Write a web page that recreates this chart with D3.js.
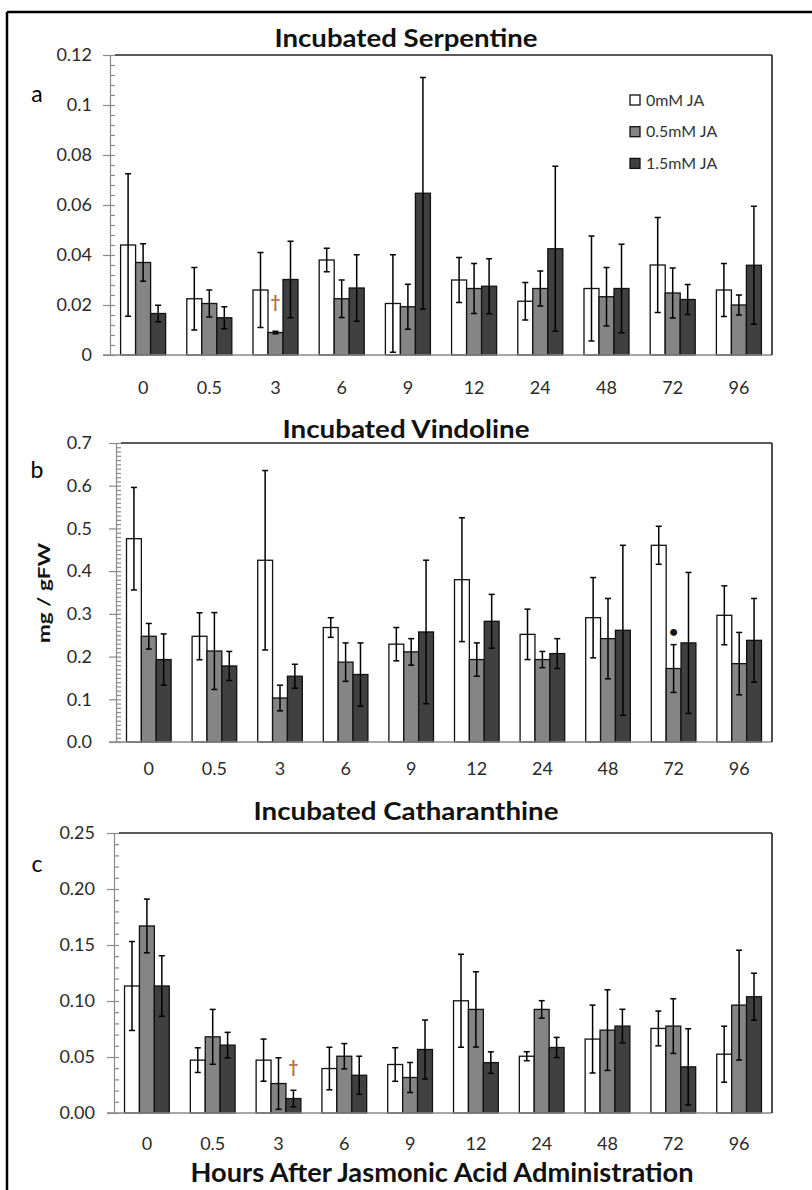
<!DOCTYPE html>
<html>
<head>
<meta charset="utf-8">
<script src="https://cdn.jsdelivr.net/npm/d3@7"></script>
<style>
  body { margin: 0; background: #fff; }
  svg { display: block; font-family: Lato, "Open Sans", sans-serif; }
</style>
</head>
<body>
<svg></svg>
<script>
const hours = ["0", "0.5", "3", "6", "9", "12", "24", "48", "72", "96"]
const series = ["0mM JA", "0.5mM JA", "1.5mM JA"]

// Incubated Serpentine
const serpMean0  = [0.044, 0.0225, 0.026, 0.038, 0.0206, 0.030, 0.0215, 0.0266, 0.036, 0.026]
const serpErr0   = [0.0285, 0.0125, 0.015, 0.0047, 0.0195, 0.009, 0.0075, 0.021, 0.019, 0.0106]
const serpMean05 = [0.037, 0.0206, 0.009, 0.0225, 0.0193, 0.0266, 0.0266, 0.0233, 0.0248, 0.020]
const serpErr05  = [0.0075, 0.0054, 0.0005, 0.0075, 0.009, 0.010, 0.007, 0.0117, 0.010, 0.004]
const serpMean15 = [0.0166, 0.0149, 0.0302, 0.0268, 0.0647, 0.0275, 0.0425, 0.0266, 0.0222, 0.0359]
const serpErr15  = [0.0033, 0.0044, 0.0153, 0.0133, 0.0463, 0.011, 0.033, 0.0177, 0.006, 0.0236]
const serpTicks  = ["0", "0.02", "0.04", "0.06", "0.08", "0.1", "0.12"]

// Incubated Vindoline
const vindMean0  = [0.476, 0.2475, 0.4255, 0.268, 0.229, 0.380, 0.252, 0.291, 0.4605, 0.2966]
const vindErr0   = [0.12, 0.055, 0.21, 0.023, 0.039, 0.145, 0.059, 0.094, 0.0445, 0.069]
const vindMean05 = [0.2475, 0.213, 0.103, 0.187, 0.211, 0.193, 0.193, 0.242, 0.172, 0.1835]
const vindErr05  = [0.03, 0.09, 0.03, 0.045, 0.031, 0.039, 0.019, 0.094, 0.056, 0.073]
const vindMean15 = [0.193, 0.178, 0.154, 0.158, 0.2576, 0.2826, 0.207, 0.2615, 0.232, 0.238]
const vindErr15  = [0.06, 0.034, 0.028, 0.074, 0.168, 0.063, 0.035, 0.199, 0.165, 0.098]
const vindTicks  = ["0.0", "0.1", "0.2", "0.3", "0.4", "0.5", "0.6", "0.7"]

// Incubated Catharanthine
const cathMean0  = [0.1134, 0.0472, 0.0472, 0.0397, 0.0433, 0.1002, 0.0507, 0.066, 0.0755, 0.0525]
const cathErr0   = [0.0397, 0.011, 0.0188, 0.019, 0.015, 0.0415, 0.004, 0.0303, 0.0155, 0.025]
const cathMean05 = [0.167, 0.068, 0.0263, 0.0507, 0.0317, 0.0925, 0.0925, 0.074, 0.0776, 0.0963]
const cathErr05  = [0.024, 0.0245, 0.023, 0.0113, 0.0134, 0.0336, 0.0078, 0.036, 0.0244, 0.049]
const cathMean15 = [0.1134, 0.0606, 0.0129, 0.0337, 0.0567, 0.045, 0.0585, 0.0776, 0.0412, 0.1038]
const cathErr15  = [0.027, 0.0114, 0.0074, 0.017, 0.0263, 0.0096, 0.009, 0.015, 0.034, 0.021]
const cathTicks  = ["0.00", "0.05", "0.10", "0.15", "0.20", "0.25"]

// significance marks: [hour, series index, value where the mark sits, symbol]
const serpMarks = [["3", 1, 0.0213, "†"]]
const vindMarks = [["72", 1, 0.259, "•"]]
const cathMarks = [["3", 2, 0.041, "†"]]

const fills = ["#ffffff", "#858585", "#404040"]
const axisGrey = "#8a8a8a"

let width = 812,
    height = 1190

const svg = d3.select("svg")
    .attr("width", width)
    .attr("height", height)

// outer figure frame, cut at right and bottom
svg.append("line")
    .attr("x1", 7).attr("y1", 12).attr("x2", width).attr("y2", 12)
    .attr("stroke", "#000").attr("stroke-width", 2.5)
svg.append("line")
    .attr("x1", 7).attr("y1", 12).attr("x2", 7).attr("y2", height)
    .attr("stroke", "#000").attr("stroke-width", 2.5)

const panels = [
    {title: "Incubated Serpentine", titleY: 47, titleLen: 263, tag: "a", tagY: 102,
     means: [serpMean0, serpMean05, serpMean15], errs: [serpErr0, serpErr05, serpErr15],
     ticks: serpTicks, max: 0.12, minor: 0.004, marks: serpMarks,
     left: 110, right: 772, top: 55, bottom: 355, yPad: 11, xPad: 26, legend: true},
    {title: "Incubated Vindoline", titleY: 438, titleLen: 247, tag: "b", tagY: 478,
     means: [vindMean0, vindMean05, vindMean15], errs: [vindErr0, vindErr05, vindErr15],
     ticks: vindTicks, max: 0.7, minor: 0.01, marks: vindMarks,
     left: 116, right: 772, top: 443, bottom: 742, yPad: 17, xPad: 20, legend: false},
    {title: "Incubated Catharanthine", titleY: 820, titleLen: 305, tag: "c", tagY: 872,
     means: [cathMean0, cathMean05, cathMean15], errs: [cathErr0, cathErr05, cathErr15],
     ticks: cathTicks, max: 0.25, minor: 0.01, marks: cathMarks,
     left: 114, right: 772, top: 833, bottom: 1113, yPad: 12, xPad: 24, legend: false}
]

const drawPanel = p => {
    const x = d3.scaleBand().domain(hours).range([p.left, p.right])
        .paddingInner(0.32).paddingOuter(0.16)
    const xs = d3.scaleBand().domain(series).range([0, x.bandwidth()])
    const y = d3.scaleLinear().domain([0, p.max]).range([p.bottom, p.top])

    const g = svg.append("g")

    g.append("text")
        .attr("x", 406).attr("y", p.titleY)
        .attr("text-anchor", "middle")
        .attr("textLength", p.titleLen).attr("lengthAdjust", "spacingAndGlyphs")
        .style("font-size", "25px").style("font-weight", 700).style("fill", "#111")
        .text(p.title)

    g.append("text")
        .attr("x", 37).attr("y", p.tagY)
        .attr("text-anchor", "middle")
        .style("font-size", "23px").style("fill", "#000")
        .text(p.tag)

    // minor ticks on the inside
    const minorAxis = g.append("g")
        .attr("transform", `translate(${p.left},0)`)
        .call(d3.axisRight(y).tickValues(d3.range(0, p.max + 1e-9, p.minor)).tickSize(5).tickFormat(""))
    minorAxis.select(".domain").remove()

    const yAxis = g.append("g")
        .attr("transform", `translate(${p.left},0)`)
        .call(d3.axisLeft(y)
            .tickValues(p.ticks.map(Number))
            .tickFormat((d, i) => p.ticks[i])
            .tickSize(7).tickSizeOuter(0).tickPadding(p.yPad))
    yAxis.selectAll("text").attr("font-size", 18).attr("font-family", "Lato").attr("fill", "#2a2a2a")

    g.selectAll("line, path").attr("stroke", axisGrey).attr("stroke-width", 1.2)

    const xAxis = g.append("g")
        .attr("transform", `translate(0,${p.bottom})`)
        .call(d3.axisBottom(x).tickSize(0).tickPadding(p.xPad))
    xAxis.select(".domain").remove()
    xAxis.selectAll("text").attr("font-size", 18).attr("font-family", "Lato").attr("fill", "#2a2a2a")

    const rows = hours.flatMap((h, i) => series.map((s, k) => ({
        h: h, s: s, k: k, v: p.means[k][i], e: p.errs[k][i]
    })))

    g.selectAll(".bar")
        .data(rows)
        .enter()
        .append("rect")
        .attr("x", d => x(d.h) + xs(d.s))
        .attr("y", d => y(d.v))
        .attr("width", xs.bandwidth())
        .attr("height", d => p.bottom - y(d.v))
        .attr("fill", d => fills[d.k])
        .attr("stroke", "#111")
        .attr("stroke-width", 1.3)

    const cx = d => x(d.h) + xs(d.s) + xs.bandwidth() / 2
    const err = g.selectAll(".err").data(rows).enter().append("g")
        .attr("stroke", "#000").attr("stroke-width", 1.5)
    err.append("line")
        .attr("x1", cx).attr("x2", cx)
        .attr("y1", d => y(d.v + d.e)).attr("y2", d => y(d.v - d.e))
    err.append("line")
        .attr("x1", d => cx(d) - 3).attr("x2", d => cx(d) + 3)
        .attr("y1", d => y(d.v + d.e)).attr("y2", d => y(d.v + d.e))
    err.append("line")
        .attr("x1", d => cx(d) - 3).attr("x2", d => cx(d) + 3)
        .attr("y1", d => y(d.v - d.e)).attr("y2", d => y(d.v - d.e))

    g.selectAll(".mark")
        .data(p.marks)
        .enter()
        .append("text")
        .attr("x", d => x(d[0]) + xs(series[d[1]]) + xs.bandwidth() / 2)
        .attr("y", d => y(d[2]))
        .attr("dy", "0.35em")
        .attr("text-anchor", "middle")
        .style("font-size", d => d[3] == "†" ? "17px" : "16px")
        .style("font-weight", 700)
        .style("fill", d => d[3] == "†" ? "#b5703a" : "#111")
        .text(d => d[3])

    // frame: grey bottom axis, black top and right
    g.append("line")
        .attr("x1", p.left - 7).attr("x2", p.right)
        .attr("y1", p.bottom).attr("y2", p.bottom)
        .attr("stroke", axisGrey).attr("stroke-width", 1.5)
    g.append("line")
        .attr("x1", p.left + 5).attr("x2", p.right)
        .attr("y1", p.top).attr("y2", p.top)
        .attr("stroke", "#222").attr("stroke-width", 1.6)
    g.append("line")
        .attr("x1", p.right).attr("x2", p.right)
        .attr("y1", p.top).attr("y2", p.bottom)
        .attr("stroke", "#222").attr("stroke-width", 1.6)

    if (p.legend) {
        const lg = g.selectAll(".legend")
            .data(series)
            .enter()
            .append("g")
            .attr("transform", (d, i) => `translate(630,${100 + i * 31.7})`)
        lg.append("rect")
            .attr("x", 0).attr("y", -5).attr("width", 10).attr("height", 10)
            .attr("fill", (d, i) => fills[i]).attr("stroke", "#111").attr("stroke-width", 1.3)
        lg.append("text")
            .attr("x", 16).attr("dy", "0.36em")
            .style("font-size", "16px").style("fill", "#333")
            .text(d => d)
    }
}

panels.forEach(drawPanel)

svg.append("text")
    .attr("transform", "translate(50,593) rotate(-90)")
    .attr("text-anchor", "middle")
    .attr("textLength", 100).attr("lengthAdjust", "spacingAndGlyphs")
    .style("font-size", "17px").style("font-weight", 700).style("fill", "#111")
    .text("mg / gFW")

svg.append("text")
    .attr("x", 442).attr("y", 1182)
    .attr("text-anchor", "middle")
    .attr("textLength", 503).attr("lengthAdjust", "spacingAndGlyphs")
    .style("font-size", "26px").style("font-weight", 700).style("fill", "#111")
    .text("Hours After Jasmonic Acid Administration")
</script>
</body>
</html>
